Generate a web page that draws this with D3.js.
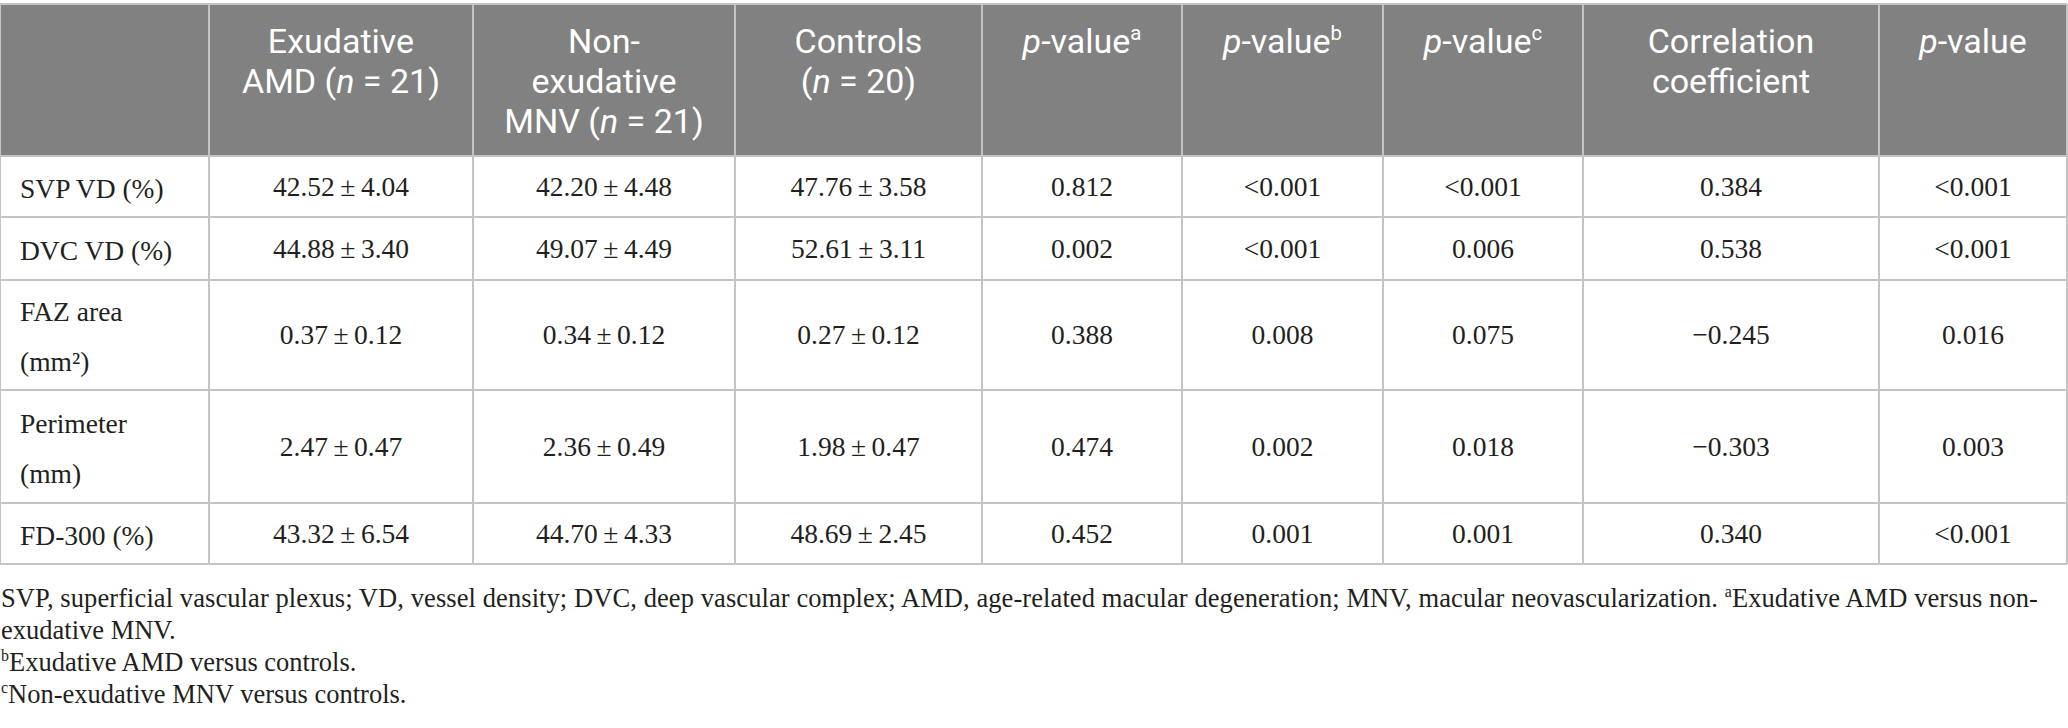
<!DOCTYPE html>
<html>
<head>
<meta charset="utf-8">
<script src="https://cdn.jsdelivr.net/npm/d3@7/dist/d3.min.js"></script>
<style>
  html, body { margin: 0; padding: 0; background: #ffffff; }
  svg { display: block; }
</style>
</head>
<body>
<svg id="chart"></svg>
<script>
// ---------------- DATA ----------------
const rowLabels = [["SVP VD (%)"], ["DVC VD (%)"], ["FAZ area", "(mm²)"], ["Perimeter", "(mm)"], ["FD-300 (%)"]];
const exudativeAMD     = ["42.52 ± 4.04", "44.88 ± 3.40", "0.37 ± 0.12", "2.47 ± 0.47", "43.32 ± 6.54"];
const nonExudativeMNV  = ["42.20 ± 4.48", "49.07 ± 4.49", "0.34 ± 0.12", "2.36 ± 0.49", "44.70 ± 4.33"];
const controls         = ["47.76 ± 3.58", "52.61 ± 3.11", "0.27 ± 0.12", "1.98 ± 0.47", "48.69 ± 2.45"];
const pValueA          = ["0.812", "0.002", "0.388", "0.474", "0.452"];
const pValueB          = ["<0.001", "<0.001", "0.008", "0.002", "0.001"];
const pValueC          = ["<0.001", "0.006", "0.075", "0.018", "0.001"];
const correlation      = ["0.384", "0.538", "−0.245", "−0.303", "0.340"];
const pValueCorr       = ["<0.001", "<0.001", "0.016", "0.003", "<0.001"];

// header lines: segments {t, i: italic, s: superscript}
const headers = [
  [],
  [[{t:"Exudative"}], [{t:"AMD ("},{t:"n",i:1},{t:" = 21)"}]],
  [[{t:"Non-"}], [{t:"exudative"}], [{t:"MNV ("},{t:"n",i:1},{t:" = 21)"}]],
  [[{t:"Controls"}], [{t:"("},{t:"n",i:1},{t:" = 20)"}]],
  [[{t:"p",i:1},{t:"-value"},{t:"a",s:1}]],
  [[{t:"p",i:1},{t:"-value"},{t:"b",s:1}]],
  [[{t:"p",i:1},{t:"-value"},{t:"c",s:1}]],
  [[{t:"Correlation"}], [{t:"coefficient"}]],
  [[{t:"p",i:1},{t:"-value"}]]
];

const footnotes = [
  [{t:"SVP, superficial vascular plexus; VD, vessel density; DVC, deep vascular complex; AMD, age-related macular degeneration; MNV, macular neovascularization. "},{t:"a",s:1},{t:"Exudative AMD versus non-"}],
  [{t:"exudative MNV."}],
  [{t:"b",s:1},{t:"Exudative AMD versus controls."}],
  [{t:"c",s:1},{t:"Non-exudative MNV versus controls."}]
];

// ---------------- LAYOUT ----------------
const W = 2068, H = 728;
const colEdges = [0, 209, 473, 735, 982, 1182, 1383, 1583, 1879, 2067];
const rowEdges = [4, 156, 217, 280, 390, 503, 564];

const columns = [rowLabels, exudativeAMD, nonExudativeMNV, controls, pValueA, pValueB, pValueC, correlation, pValueCorr];

const svg = d3.select("#chart").attr("width", W).attr("height", H);

const headerFont = "Roboto, 'Noto Sans', sans-serif";
const bodyFont = "'Liberation Serif', 'Times New Roman', serif";

// header background
svg.append("rect")
  .attr("x", colEdges[0]).attr("y", rowEdges[0])
  .attr("width", colEdges[colEdges.length-1] - colEdges[0])
  .attr("height", rowEdges[1] - rowEdges[0])
  .attr("fill", "#808180");

// Multi-line text in ONE <text> element; each line starts with a tspan carrying x/dy
function multiLine(textSel, lines, x, fs, lineH) {
  lines.forEach((segs, li) => {
    let prevSup = false;
    segs.forEach((seg, si) => {
      const ts = textSel.append("tspan").text(seg.t);
      let dy = 0;
      if (si === 0) {
        ts.attr("x", x);
        dy += li === 0 ? 0 : lineH;
      }
      if (seg.i) ts.attr("font-style", "italic");
      if (seg.s) {
        ts.attr("font-size", fs * 0.6);
        dy += -fs * 0.38;
      } else if (prevSup) {
        dy += fs * 0.38;
      }
      if (dy !== 0) ts.attr("dy", dy);
      prevSup = !!seg.s;
    });
    if (prevSup) textSel.append("tspan").attr("dy", fs * 0.38).text("");
  });
}

// header text
const hFs = 34, hLine = 40, hFirst = 53;
headers.forEach((lines, ci) => {
  if (!lines.length) return;
  const cx = (colEdges[ci] + colEdges[ci+1]) / 2;
  const t = svg.append("text")
    .attr("x", cx).attr("y", hFirst)
    .attr("text-anchor", "middle")
    .attr("font-family", headerFont)
    .attr("font-size", hFs)
    .attr("fill", "#ffffff");
  multiLine(t, lines, cx, hFs, hLine);
});

// grid lines
const gridColor = "#c4c4c4";
svg.selectAll("line.h").data(rowEdges).join("line")
  .attr("x1", colEdges[0]).attr("x2", colEdges[colEdges.length-1])
  .attr("y1", d => d).attr("y2", d => d)
  .attr("stroke", gridColor).attr("stroke-width", 2);
svg.selectAll("line.v").data(colEdges).join("line")
  .attr("x1", d => d).attr("x2", d => d)
  .attr("y1", rowEdges[0]).attr("y2", rowEdges[rowEdges.length-1])
  .attr("stroke", gridColor)
  .attr("stroke-width", 2);

// body cells
const bFs = 27.5, labelLine = 50;
const fmt = s => s.replace(" ± ", "\u2009±\u2009");
for (let r = 0; r < rowLabels.length; r++) {
  const cy = (rowEdges[r+1] + rowEdges[r+2]) / 2;
  const lab = rowLabels[r];
  const y0 = cy + 2 - (lab.length - 1) / 2 * labelLine;
  const lt = svg.append("text")
    .attr("x", 20).attr("y", y0).attr("dy", "0.34em")
    .attr("font-family", bodyFont).attr("font-size", bFs)
    .attr("fill", "#231f20");
  lab.forEach((txt, li) => {
    lt.append("tspan").attr("x", 20).attr("dy", li === 0 ? null : labelLine).text(txt);
  });
  for (let c = 1; c < columns.length; c++) {
    const cx = (colEdges[c] + colEdges[c+1]) / 2;
    svg.append("text")
      .attr("x", cx).attr("y", cy).attr("dy", "0.34em")
      .attr("text-anchor", "middle")
      .attr("font-family", bodyFont).attr("font-size", bFs)
      .attr("fill", "#231f20").text(fmt(columns[c][r]));
  }
}

// footnotes (single text block)
const fFs = 26.5, fFirst = 607, fLine = 32;
const ft = svg.append("text")
  .attr("x", 1).attr("y", fFirst)
  .attr("font-family", bodyFont).attr("font-size", fFs)
  .attr("fill", "#231f20");
multiLine(ft, footnotes, 1, fFs, fLine);
// stretch the first line to the reference's width
(function() {
  const nodes = ft.selectAll("tspan").filter((d, i) => i < 3).nodes();
  let len = 0; nodes.forEach(n => len += n.getComputedTextLength());
  const target = 2037;
  if (len > 0) {
    const chars = nodes.reduce((a, n) => a + n.textContent.length, 0);
    nodes.forEach(n => d3.select(n).attr("letter-spacing", (target - len) / chars));
  }
})();
</script>
</body>
</html>
